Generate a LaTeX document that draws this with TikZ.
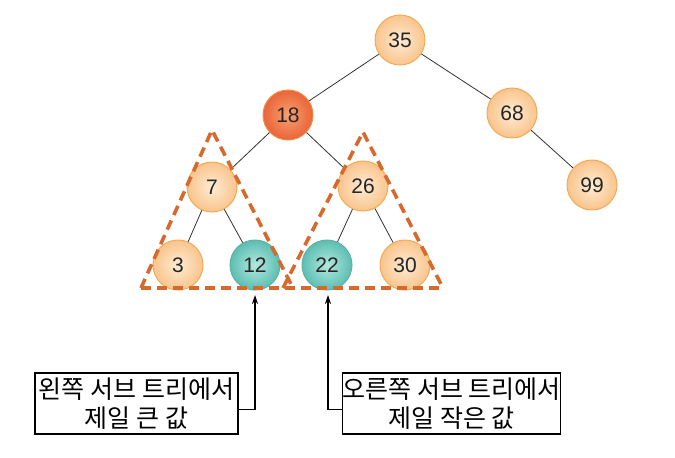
\documentclass[tikz,border=0pt]{standalone}
\usepackage{fontspec}
\setmainfont{Liberation Sans}
\newfontfamily\krfont{Noto Sans CJK KR}
\usetikzlibrary{arrows.meta}
\definecolor{peachIn}{RGB}{254,236,212}
\definecolor{peachOut}{RGB}{249,196,140}
\definecolor{peachLine}{RGB}{240,172,84}
\definecolor{redIn}{RGB}{248,160,110}
\definecolor{redOut}{RGB}{234,100,58}
\definecolor{redLine}{RGB}{242,140,70}
\definecolor{tealIn}{RGB}{180,232,222}
\definecolor{tealOut}{RGB}{92,190,178}
\definecolor{tealLine}{RGB}{96,176,164}
\definecolor{dashCol}{RGB}{214,106,46}
\definecolor{edgeCol}{RGB}{50,50,50}
\tikzset{
  x=1pt, y=-1pt,
  tnode/.style={circle, minimum size=50pt, inner sep=0pt, line width=1pt,
    draw=peachLine, inner color=peachIn, outer color=peachOut,
    font=\fontsize{21}{21}\selectfont, text=black!85},
  rootsel/.style={tnode, draw=redLine, inner color=redIn, outer color=redOut},
  tealnode/.style={tnode, draw=tealLine, inner color=tealIn, outer color=tealOut},
  tedge/.style={draw=edgeCol, line width=0.8pt},
  subtri/.style={draw=dashCol, line width=3.6pt, dash pattern=on 10pt off 6pt},
  labbox/.style={draw=black, line width=1.2pt, minimum height=61pt, inner sep=0pt,
    align=center, font=\krfont\fontsize{25}{29}\selectfont},
  ptr/.style={draw=black, line width=1.2pt, -{Stealth[length=9pt,width=6pt]}}
}
\begin{document}
\begin{tikzpicture}
\useasboundingbox (0,0) rectangle (675,458);
% dashed subtree outlines
\coordinate (la) at (212,130);
\coordinate (lb) at (141,288);
\coordinate (lc) at (293,288);
\coordinate (ra) at (363,132);
\coordinate (rb) at (283,288);
\coordinate (rc) at (443,288);
% nodes
\node[tnode] (n35) at (400,40) {35};
\node[rootsel] (n18) at (288,115) {18};
\node[tnode] (n68) at (512,113) {68};
\node[tnode] (n99) at (592,185) {99};
\node[tnode] (n7) at (212,187) {7};
\node[tnode] (n26) at (363,186) {26};
\node[tnode] (n3) at (178,265) {3};
\node[tealnode] (n12) at (255,265) {12};
\node[tealnode] (n22) at (327,265) {22};
\node[tnode] (n30) at (405,265) {30};
% edges
\draw[tedge] (n35) -- (n18);
\draw[tedge] (n35) -- (n68);
\draw[tedge] (n68) -- (n99);
\draw[tedge] (n18) -- (n7);
\draw[tedge] (n18) -- (n26);
\draw[tedge] (n7) -- (n3);
\draw[tedge] (n7) -- (n12);
\draw[tedge] (n26) -- (n22);
\draw[tedge] (n26) -- (n30);
% dashed triangles (over the nodes)
\draw[subtri] (lb) -- (la) -- (lc);
\draw[subtri] (rb) -- (ra) -- (rc);
\draw[subtri] (lb) -- (rc);
% label boxes
\node[labbox, minimum width=203pt] (lbox) at (136.5,403.5) {왼쪽 서브 트리에서\\제일 큰 값};
\node[labbox, minimum width=213pt] (rbox) at (451.5,403.5) {오른쪽 서브 트리에서\\제일 작은 값};
\coordinate (tipL) at (255,295);
\coordinate (tipR) at (328,295);
\draw[ptr] ([yshift=-6pt]lbox.east) -| (tipL);
\draw[ptr] ([yshift=-6pt]rbox.west) -| (tipR);
\end{tikzpicture}
\end{document}
